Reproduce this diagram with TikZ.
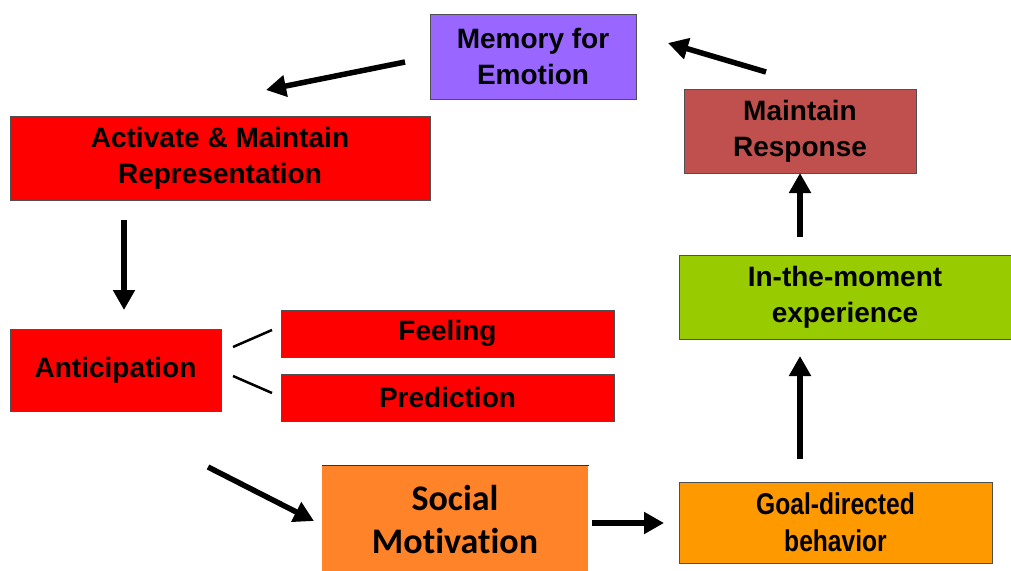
\documentclass[tikz,border=0pt]{standalone}
\usepackage{fontspec}
\setmainfont{Liberation Sans}
\newfontfamily\calibrifont[Ligatures={NoCommon}]{Carlito}
\newfontfamily\narrowfont[FakeStretch=0.82]{Liberation Sans}
\usetikzlibrary{arrows.meta}
\definecolor{memviolet}{HTML}{9966FF}
\definecolor{boxred}{HTML}{FF0000}
\definecolor{socorange}{HTML}{FF8429}
\definecolor{goalorange}{HTML}{FF9900}
\definecolor{expgreen}{HTML}{99CC00}
\definecolor{respred}{HTML}{C0504D}
\definecolor{edge}{HTML}{505050}
\tikzset{
  stage/.style={draw=edge, line width=1pt, inner sep=0pt, align=center,
    font=\fontsize{28}{36}\selectfont\bfseries},
  flow/.style={line width=5.5pt, -{Triangle[length=20pt,width=21pt]}},
  link/.style={line width=2.5pt},
}
\begin{document}
\begin{tikzpicture}[x=1pt,y=-1pt]
\useasboundingbox (0,0) rectangle (1011,570);
% boxes
\node[stage, fill=memviolet, minimum width=206pt, minimum height=85pt] (mem) at (533,56.5) {Memory for\\Emotion};
\node[stage, fill=boxred, minimum width=420pt, minimum height=84pt] (act) at (220,158) {Activate \& Maintain\\Representation};
\node[stage, fill=boxred, minimum width=211pt, minimum height=82pt] (ant) at (115.5,370) {Anticipation};
\node[stage, fill=boxred, minimum width=333pt, minimum height=47pt] (feel) at (447.5,333.5) {Feeling};
\node[stage, fill=boxred, minimum width=333pt, minimum height=47pt] (pred) at (447.5,397.5) {Prediction};
\node[stage, draw=none, fill=socorange, minimum width=266pt, minimum height=106pt,
  font=\calibrifont\fontsize{36}{43}\selectfont\bfseries] (soc) at (455,519) {Social\\Motivation};
\draw[line width=1.2pt, black!80] (soc.north west) -- (soc.north east);
\node[stage, fill=goalorange, minimum width=313pt, minimum height=81pt,
  font=\narrowfont\fontsize{30}{37}\selectfont\bfseries] (goal) at (835.5,522.5) {Goal-directed\\behavior};
\node[stage, fill=expgreen, minimum width=332pt, minimum height=84pt] (exp) at (845,297) {In-the-moment\\experience};
\node[stage, fill=respred, minimum width=232pt, minimum height=84pt] (resp) at (800,131) {Maintain\\Response};
% connectors
\coordinate (a1s) at (405,62);  \coordinate (a1e) at (266,90);
\coordinate (a2s) at (766,72);  \coordinate (a2e) at (668,43);
\coordinate (a3s) at (124,220); \coordinate (a3e) at (124,310);
\coordinate (a4s) at (208,467); \coordinate (a4e) at (314,521);
\coordinate (a5s) at (592,523); \coordinate (a5e) at (664,523);
\coordinate (a6s) at (800,459); \coordinate (a6e) at (800,356);
\coordinate (a7s) at (800,237); \coordinate (a7e) at (800,173);
\coordinate (l1s) at (233,347); \coordinate (l1e) at (272,330);
\coordinate (l2s) at (233,376); \coordinate (l2e) at (272,393);
\draw[flow] (a1s) -- (a1e);
\draw[flow] (a2s) -- (a2e);
\draw[flow] (a3s) -- (a3e);
\draw[flow] (a4s) -- (a4e);
\draw[flow] (a5s) -- (a5e);
\draw[flow] (a6s) -- (a6e);
\draw[flow] (a7s) -- (a7e);
\draw[link] (l1s) -- (l1e);
\draw[link] (l2s) -- (l2e);
\end{tikzpicture}
\end{document}
